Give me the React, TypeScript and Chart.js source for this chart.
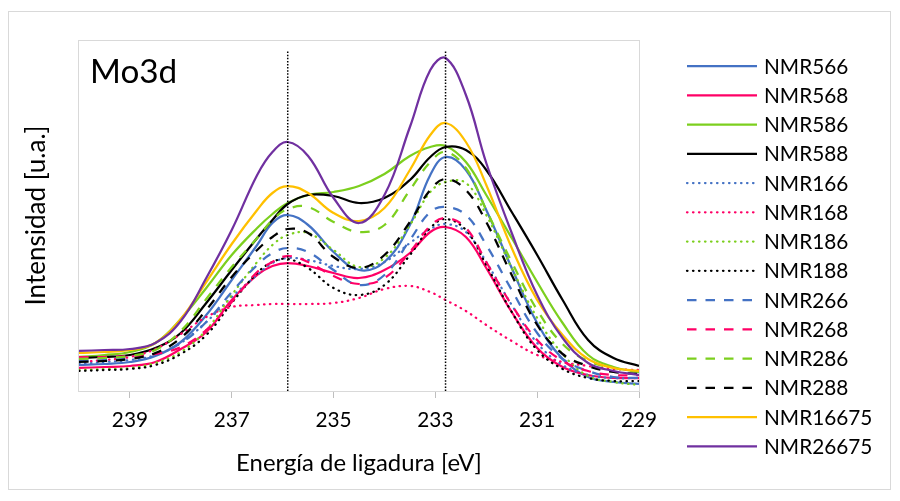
import React, { useEffect, useRef } from "react";
import { Chart, registerables } from "chart.js";

Chart.register(...registerables);

// ---------- data (binding energy in eV, intensity in arbitrary units) ----------
const energies = [240, 239.5, 239, 238.5, 238, 237.5, 237, 236.5, 236.2, 235.9, 235.5, 235, 234.5, 234, 233.5, 233.1, 232.8, 232.4, 232, 231.5, 231, 230.5, 230, 229.5, 229];
const xTicks = [239, 237, 235, 233, 231, 229];
const peakLines = [235.9, 232.8];
const peakLineTop = 340;

const NMR566 = [26, 27, 29, 35, 49, 76, 111, 146, 168, 176, 166, 139, 121, 129, 166, 216, 234, 221, 181, 123, 68, 32, 14, 9, 7];
const NMR568 = [23, 24, 25, 29, 42, 59, 91, 116, 125, 128, 125, 118, 113, 121, 138, 159, 164, 154, 123, 79, 43, 24, 16, 13, 13];
const NMR586 = [34, 36, 39, 48, 72, 103, 136, 163, 177, 188, 196, 199, 205, 217, 235, 244, 245, 229, 196, 153, 109, 68, 36, 24, 19];
const NMR588 = [33, 34, 36, 43, 58, 88, 121, 153, 171, 187, 196, 195, 188, 193, 211, 234, 244, 241, 221, 179, 136, 91, 51, 33, 25];
const NMR166 = [27, 29, 31, 36, 48, 69, 94, 116, 128, 133, 131, 125, 122, 129, 148, 162, 167, 159, 129, 86, 48, 26, 16, 13, 13];
const NMR168 = [29, 31, 34, 42, 57, 74, 84, 86, 87, 87, 87, 88, 93, 102, 105, 99, 91, 80, 66, 50, 36, 29, 25, 22, 21];
const NMR186 = [21, 22, 23, 28, 39, 61, 96, 129, 146, 156, 158, 141, 124, 133, 166, 199, 209, 208, 176, 123, 73, 37, 15, 9, 6];
const NMR188 = [20, 21, 22, 26, 37, 56, 88, 118, 129, 132, 123, 103, 96, 106, 136, 163, 172, 161, 126, 79, 41, 22, 13, 10, 10];
const NMR266 = [30, 31, 33, 37, 48, 69, 99, 126, 138, 143, 139, 121, 106, 116, 151, 179, 184, 176, 146, 101, 58, 32, 20, 14, 13];
const NMR268 = [34, 34, 35, 37, 44, 61, 89, 119, 129, 135, 129, 115, 107, 113, 139, 165, 173, 163, 129, 86, 51, 30, 20, 16, 16];
const NMR286 = [32, 33, 35, 41, 60, 92, 124, 153, 171, 182, 184, 169, 159, 166, 201, 229, 239, 223, 181, 129, 81, 47, 30, 23, 19];
const NMR288 = [29, 30, 32, 38, 53, 81, 114, 141, 154, 162, 158, 134, 123, 136, 169, 201, 212, 201, 169, 116, 66, 37, 25, 19, 17];
const NMR16675 = [38, 39, 41, 48, 72, 109, 147, 181, 198, 205, 198, 178, 170, 183, 221, 256, 268, 249, 206, 143, 91, 56, 32, 23, 20];
const NMR26675 = [40, 41, 42, 48, 70, 113, 161, 216, 239, 249, 235, 193, 168, 196, 264, 321, 333, 296, 228, 158, 96, 53, 28, 20, 16];

const seriesNames = ["NMR566", "NMR568", "NMR586", "NMR588", "NMR166", "NMR168", "NMR186", "NMR188", "NMR266", "NMR268", "NMR286", "NMR288", "NMR16675", "NMR26675"];
const seriesValues = [NMR566, NMR568, NMR586, NMR588, NMR166, NMR168, NMR186, NMR188, NMR266, NMR268, NMR286, NMR288, NMR16675, NMR26675];

const titleText = "Mo3d";
const xTitle = "Energía de ligadura [eV]";
const yTitle = "Intensidad [u.a.]";

// ---------- styles ----------
const BLUE = "#4472C4";
const PINK = "#FF0066";
const GREEN = "#7CCF1E";
const BLACK = "#000000";
const GOLD = "#FFC000";
const PURPLE = "#7030A0";
const SOLID: number[] = [];
const DOT = [0.5, 5.5];
const DASH = [9.5, 9];
const seriesStyles = [
  { color: BLUE, dash: SOLID },
  { color: PINK, dash: SOLID },
  { color: GREEN, dash: SOLID },
  { color: BLACK, dash: SOLID },
  { color: BLUE, dash: DOT },
  { color: PINK, dash: DOT },
  { color: GREEN, dash: DOT },
  { color: BLACK, dash: DOT },
  { color: BLUE, dash: DASH },
  { color: PINK, dash: DASH },
  { color: GREEN, dash: DASH },
  { color: BLACK, dash: DASH },
  { color: GOLD, dash: SOLID },
  { color: PURPLE, dash: SOLID },
];

const FONT = "Lato";

function fitSize(text: string, width: number): number {
  const c = document.createElement("canvas").getContext("2d")!;
  c.font = `100px ${FONT}`;
  return (100 * width) / c.measureText(text).width;
}

export default function App() {
  const ref = useRef<HTMLCanvasElement>(null);

  useEffect(() => {
    const canvas = ref.current;
    if (!canvas) return;

    const legendSize = fitSize("NMR566", 84.3);
    const tickSize = legendSize;
    const xTitleSize = fitSize(xTitle, 246);
    const yTitleSize = fitSize(yTitle, 180);
    const headSize = fitSize(titleText, 87.3);

    const datasets: any[] = seriesNames.map((name, i) => ({
      label: name,
      data: energies.map((e, j) => ({ x: e, y: seriesValues[i][j] })),
      borderColor: seriesStyles[i].color,
      backgroundColor: seriesStyles[i].color,
      borderDash: seriesStyles[i].dash,
      borderCapStyle: seriesStyles[i].dash === DOT ? "round" : "butt",
      borderWidth: 2.25,
      pointRadius: 0,
      fill: false,
      tension: 0.4,
      order: seriesNames.length - i,
    }));
    peakLines.forEach((e) => {
      datasets.push({
        label: "",
        data: [
          { x: e, y: 0 },
          { x: e, y: peakLineTop },
        ],
        borderColor: "#000",
        borderDash: [1.5, 1.6],
        borderWidth: 1.5,
        pointRadius: 0,
        fill: false,
        order: -1,
      });
    });

    const decor = {
      id: "decor",
      beforeDatasetsDraw(chart: any) {
        const { ctx, chartArea: a } = chart;
        ctx.save();
        ctx.strokeStyle = "#D9D9D9";
        ctx.lineWidth = 1;
        ctx.strokeRect(8.5, 11.5, 882, 478);
        ctx.strokeRect(Math.round(a.left) - 0.5, Math.round(a.top) + 0.5, a.right - a.left + 1, a.bottom - a.top);
        ctx.restore();
      },
      afterDraw(chart: any) {
        const { ctx } = chart;
        ctx.save();
        ctx.fillStyle = "#000";
        ctx.font = `${headSize}px ${FONT}`;
        ctx.textBaseline = "alphabetic";
        ctx.textAlign = "left";
        ctx.fillText(titleText, 90, 83);

        ctx.font = `${legendSize}px ${FONT}`;
        ctx.textBaseline = "middle";
        seriesNames.forEach((name, i) => {
          const y = 66 + i * 29.25;
          const st = seriesStyles[i];
          ctx.beginPath();
          ctx.strokeStyle = st.color;
          ctx.lineWidth = 2.25;
          ctx.setLineDash(st.dash);
          ctx.lineCap = st.dash === DOT ? "round" : "butt";
          ctx.moveTo(687, y);
          ctx.lineTo(757, y);
          ctx.stroke();
          ctx.setLineDash([]);
          ctx.fillStyle = "#000";
          ctx.fillText(name, 764, y + 1);
        });
        ctx.restore();
      },
    };

    const chart = new Chart(canvas, {
      type: "line",
      data: { datasets },
      options: {
        animation: false,
        responsive: false,
        devicePixelRatio: 1,
        layout: { padding: { left: 0, right: 261, top: 40, bottom: 0 } },
        plugins: { legend: { display: false }, tooltip: { enabled: false } },
        scales: {
          x: {
            type: "linear",
            min: 229,
            max: 240,
            reverse: true,
            afterBuildTicks: (scale: any) => {
              scale.ticks = xTicks.map((v) => ({ value: v }));
            },
            afterFit: (scale: any) => {
              scale.height = 110;
            },
            grid: { display: true, drawOnChartArea: false, drawTicks: true, tickLength: 7, color: "#BFBFBF" },
            border: { display: true, color: "#BFBFBF", width: 1 },
            ticks: {
              color: "#000",
              font: { family: FONT, size: tickSize },
              padding: 420.5 - 398 - 0.6 * tickSize,
              maxRotation: 0,
              autoSkip: false,
              callback: (v: any) => String(v),
            },
            title: {
              display: true,
              text: xTitle,
              color: "#000",
              font: { family: FONT, size: xTitleSize },
              padding: { top: 0, bottom: 38 - 0.6 * xTitleSize },
            },
          },
          y: {
            type: "linear",
            min: 0,
            max: 351,
            afterFit: (scale: any) => {
              scale.width = 79;
            },
            grid: { display: false },
            border: { display: false },
            ticks: { display: false },
            title: {
              display: true,
              text: yTitle,
              color: "#000",
              font: { family: FONT, size: yTitleSize },
              padding: { top: 37 - 0.6 * yTitleSize, bottom: 0 },
            },
          },
        },
      } as any,
      plugins: [decor],
    });

    return () => chart.destroy();
  }, []);

  return (
    <div style={{ position: "absolute", left: 0, top: 0, width: 900, height: 501, background: "#fff" }}>
      <canvas ref={ref} width={900} height={501} style={{ display: "block" }} />
    </div>
  );
}
